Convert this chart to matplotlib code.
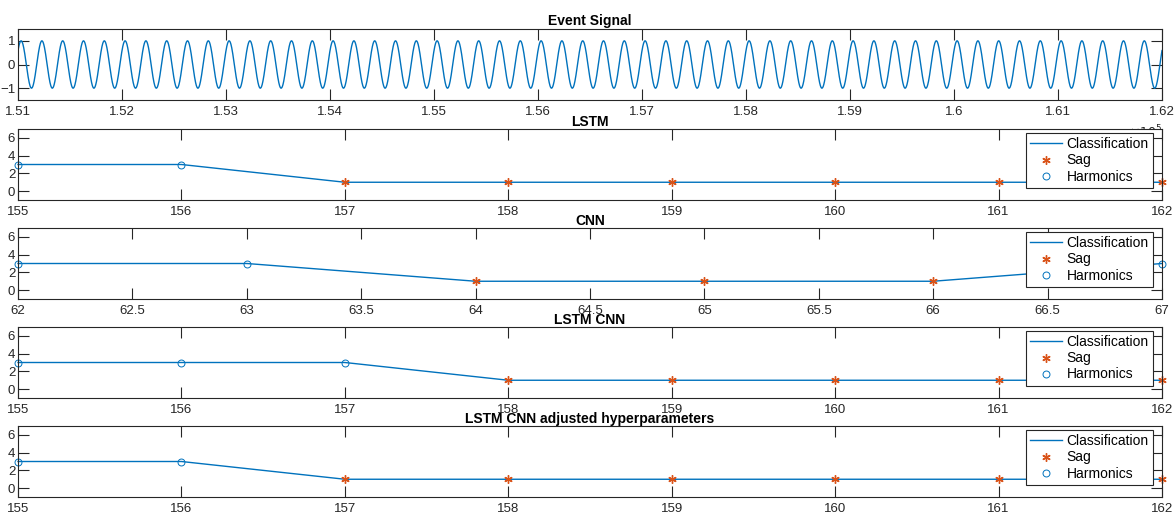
import numpy as np
from matplotlib import pyplot as plt

plt.rcParams['font.family'] = ['Liberation Sans', 'DejaVu Sans']

sig_start = 151000
sig_stop = 162000
sig_period = 200      # x units per cycle
sig_peak = 151030     # first peak
sig_amp = 1.0
sig_xticks = [151000, 152000, 153000, 154000, 155000, 156000, 157000, 158000,
              159000, 160000, 161000, 162000]

# classification results (1 = Sag, 3 = Harmonics)
lstm_x = [155, 156, 157, 158, 159, 160, 161, 162]
lstm_y = [3, 3, 1, 1, 1, 1, 1, 1]

cnn_x = [62, 63, 64, 65, 66, 67]
cnn_y = [3, 3, 1, 1, 1, 3]
cnn_ticks = [62, 62.5, 63, 63.5, 64, 64.5, 65, 65.5, 66, 66.5, 67]

lstmcnn_x = [155, 156, 157, 158, 159, 160, 161, 162]
lstmcnn_y = [3, 3, 3, 1, 1, 1, 1, 1]

adj_x = [155, 156, 157, 158, 159, 160, 161, 162]
adj_y = [3, 3, 1, 1, 1, 1, 1, 1]

titles = ['LSTM', 'CNN', 'LSTM CNN', 'LSTM CNN adjusted hyperparameters']
results = [(lstm_x, lstm_y), (cnn_x, cnn_y), (lstmcnn_x, lstmcnn_y), (adj_x, adj_y)]

blue = '#0072BD'
orange = '#D95319'
axcol = '#262626'

W, H = 1174, 515
fig = plt.figure(figsize=(W / 100, H / 100), dpi=100)

def make_axes(top):
    left, right, h = 18, 1162, 71
    ax = fig.add_axes([left / W, 1 - (top + h) / H, (right - left) / W, h / H])
    for s in ax.spines.values():
        s.set_color(axcol)
        s.set_linewidth(0.8)
    ax.tick_params(direction='in', top=True, right=True, length=8, width=0.8,
                   color=axcol, labelcolor=axcol, labelsize=9.5, pad=4)
    ax.tick_params(axis='y', pad=2)
    return ax

# event signal
ax = make_axes(29)
n = np.arange(sig_start, sig_stop + 2.5, 2.5)
ax.plot(n, sig_amp * np.cos(2 * np.pi * (n - sig_peak) / sig_period), color=blue, lw=1)
ax.set_xlim(sig_start, sig_stop)
ax.set_ylim(-1.5, 1.5)
ax.set_yticks([-1, 0, 1])
ax.set_xticks(sig_xticks)
ax.set_xticklabels(['%g' % (v / 1e5) for v in sig_xticks])
ax.set_title('Event Signal', fontsize=10, fontweight='bold', pad=3, color='black')
ax.text(1.0, -0.33, r'$\times10^5$', transform=ax.transAxes, ha='right', va='top',
        fontsize=9, color=axcol)

tops = [129, 228, 327, 426]
for i, (title, (x, y)) in enumerate(zip(titles, results)):
    ax = make_axes(tops[i])
    ax.set_facecolor('white')
    x = np.array(x)
    y = np.array(y)
    ax.plot(x, y, color=blue, lw=1, label='Classification', clip_on=False)
    ax.plot(x[y == 1], y[y == 1], ls='none', marker=(6, 2, 0), ms=6, mew=1,
            color=orange, label='Sag', clip_on=False)
    ax.plot(x[y == 3], y[y == 3], ls='none', marker='o', ms=5, mfc='none', mew=0.7,
            color=blue, label='Harmonics', clip_on=False)
    ax.set_xlim(x[0], x[-1])
    ax.set_ylim(-1, 7)
    ax.set_yticks([0, 2, 4, 6])
    if title == 'CNN':
        ax.set_xticks(cnn_ticks)
        ax.set_xticklabels(['%g' % v for v in cnn_ticks])
    else:
        ax.set_xticks(x)
    ax.set_title(title, fontsize=10, fontweight='bold', pad=2, color='black')
    leg = ax.legend(loc='upper right', bbox_to_anchor=(1 - 5 / 1144, 1), fontsize=10,
                    fancybox=False, framealpha=1, edgecolor=axcol, borderaxespad=0.3,
                    handlelength=2.3, handletextpad=0.3, labelspacing=0.15, borderpad=0.3)
    leg.get_frame().set_linewidth(0.8)

fig.savefig('out.png', dpi=100)
